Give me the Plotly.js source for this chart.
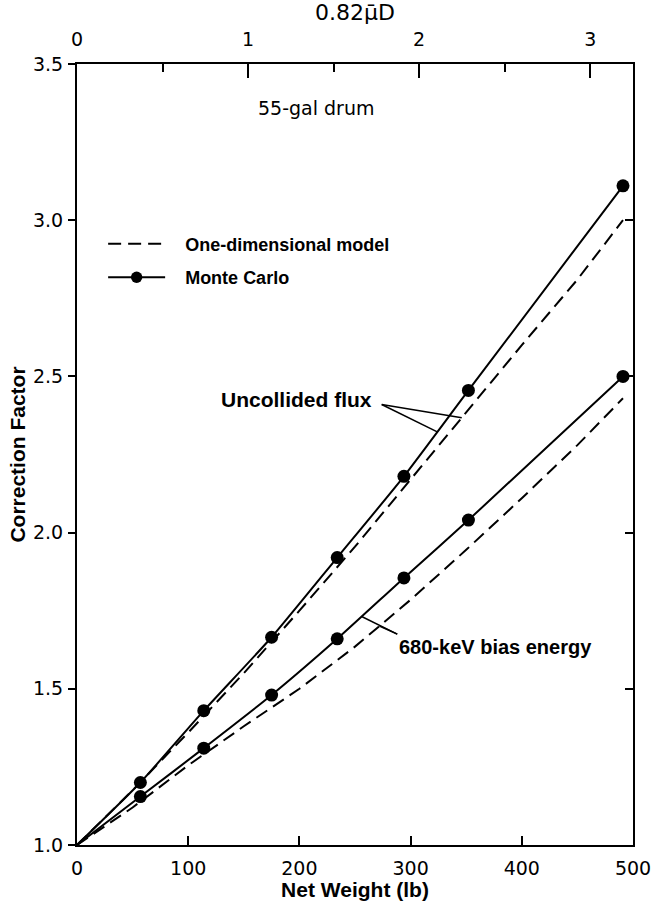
<!DOCTYPE html>
<html>
<head>
<meta charset="utf-8">
<script src="https://cdn.plot.ly/plotly-3.0.1.min.js"></script>
<style>
  html, body { margin: 0; padding: 0; background: #fff; }
  #chart { width: 652px; height: 901px; }
</style>
</head>
<body>
<div id="chart"></div>
<script>
// Net weight of the drum contents (lb) at which the Monte Carlo runs were made
const weightMC = [0, 57, 114, 175, 234, 294, 352, 491];
// Monte Carlo correction factors
const mcUncollided = [1.0, 1.20, 1.43, 1.665, 1.92, 2.18, 2.455, 3.11];
const mcBias680 = [1.0, 1.155, 1.31, 1.48, 1.66, 1.855, 2.04, 2.50];

// One-dimensional model, evaluated on a regular weight grid
const weightModel = [0, 50, 100, 150, 200, 250, 300, 350, 400, 450, 491];
const modelUncollided = [1.0, 1.175, 1.36, 1.55, 1.75, 1.955, 2.17, 2.385, 2.60, 2.81, 3.0];
const modelBias680 = [1.0, 1.12, 1.255, 1.38, 1.50, 1.635, 1.785, 1.945, 2.11, 2.28, 2.43];

// Axis ticks
const weightTicks = [0, 100, 200, 300, 400, 500];
const muDTicks = [0, 1, 2, 3];
const muDMinorTicks = [0.5, 1.5, 2.5];
const factorTicks = [1.0, 1.5, 2.0, 2.5, 3.0, 3.5];

const INK = '#000';
const TICK_FONT = { family: 'DejaVu Sans', size: 19, color: INK };
const BOLD_FONT = { family: 'Liberation Sans, Arial, sans-serif', size: 21, color: INK, weight: 'bold' };
const GAP = '\u00a0\u00a0\u00a0';

// linear lookup on a curve, used to anchor the label leader lines
function lookup(xs, ys, x) {
  for (let i = 1; i < xs.length; i++) {
    if (x <= xs[i]) {
      const t = (x - xs[i - 1]) / (xs[i] - xs[i - 1]);
      return ys[i - 1] + t * (ys[i] - ys[i - 1]);
    }
  }
  return ys[ys.length - 1];
}

// no dot at the common origin of the curves
const mcMarkerSizes = weightMC.map(w => (w === 0 ? 0 : 13));

const dashed = { color: INK, width: 2, dash: '13px,7px' };
const solid = { color: INK, width: 2, shape: 'spline', smoothing: 0.5 };
const dot = { color: INK, size: mcMarkerSizes, opacity: 1, line: { width: 0 } };

const traces = [
  {
    x: weightModel, y: modelUncollided, mode: 'lines', line: dashed,
    name: GAP + 'One-dimensional model', legendgroup: 'model', showlegend: true
  },
  {
    x: weightModel, y: modelBias680, mode: 'lines', line: dashed,
    name: 'One-dimensional model', legendgroup: 'model', showlegend: false
  },
  {
    x: weightMC, y: mcUncollided, mode: 'lines+markers', line: solid, marker: dot,
    name: GAP + 'Monte Carlo', legendgroup: 'mc', showlegend: true
  },
  {
    x: weightMC, y: mcBias680, mode: 'lines+markers', line: solid, marker: dot,
    name: 'Monte Carlo', legendgroup: 'mc', showlegend: false
  },
  // empty trace that binds the top (0.82 mu D) and right-hand axes
  {
    x: [], y: [], xaxis: 'x2', yaxis: 'y2', mode: 'lines',
    showlegend: false, hoverinfo: 'skip'
  }
];

// leader lines from the curve labels to the curves they name
const leader = (x0, y0, x1, y1) => ({
  type: 'line', xref: 'x', yref: 'y', x0: x0, y0: y0, x1: x1, y1: y1,
  line: { color: INK, width: 1.5 }
});
const uncollidedFrom = [274, 2.41];
const biasFrom = [288, 1.675];
const shapes = [
  leader(uncollidedFrom[0], uncollidedFrom[1], 324, lookup(weightMC, mcUncollided, 324)),
  leader(uncollidedFrom[0], uncollidedFrom[1], 346, lookup(weightModel, modelUncollided, 346)),
  leader(biasFrom[0], biasFrom[1], 256, lookup(weightMC, mcBias680, 256)),
  leader(biasFrom[0], biasFrom[1], 272, lookup(weightModel, modelBias680, 272))
];

const annotations = [
  {
    text: '55-gal drum', x: 215, y: 3.36, xref: 'x', yref: 'y',
    showarrow: false, font: { family: 'DejaVu Sans', size: 19, color: INK }
  },
  {
    text: 'Uncollided flux', x: 267, y: 2.425, xref: 'x', yref: 'y',
    xanchor: 'right', showarrow: false, font: BOLD_FONT
  },
  {
    text: '680-keV bias energy', x: 288, y: 1.635, xref: 'x', yref: 'y',
    xanchor: 'left', showarrow: false,
    font: { family: 'Liberation Sans, Arial, sans-serif', size: 20, color: INK, weight: 'bold' }
  }
];

const frame = { showline: true, linecolor: INK, linewidth: 2, showgrid: false, zeroline: false };

const layout = {
  width: 652, height: 901,
  margin: { l: 77, r: 19, t: 64, b: 56 },
  paper_bgcolor: '#fff', plot_bgcolor: '#fff',
  showlegend: true,
  legend: {
    x: 0.047, y: 0.793, xanchor: 'left', yanchor: 'top',
    bgcolor: 'rgba(0,0,0,0)', itemwidth: 57, tracegroupgap: 7,
    traceorder: 'grouped',
    font: { family: 'Liberation Sans, Arial, sans-serif', size: 18, color: INK, weight: 'bold' }
  },
  xaxis: Object.assign({}, frame, {
    range: [0, 500], tickvals: weightTicks, ticks: 'inside', ticklen: 9, tickwidth: 2,
    tickcolor: INK, tickfont: TICK_FONT, ticklabelstandoff: 5,
    title: { text: 'Net Weight (lb)', font: BOLD_FONT, standoff: 4 }
  }),
  xaxis2: Object.assign({}, frame, {
    overlaying: 'x', side: 'top', anchor: 'y2', range: [0, 3.25],
    tickvals: muDTicks, ticks: 'inside', ticklen: 14, tickwidth: 2, tickcolor: INK,
    minor: { tickvals: muDMinorTicks, ticks: 'inside', ticklen: 8, tickwidth: 2, tickcolor: INK },
    tickfont: TICK_FONT, ticklabelstandoff: 8,
    title: { text: '0.82\u03bc\u0304D', font: { family: 'DejaVu Sans', size: 22, color: INK }, standoff: 2 }
  }),
  yaxis: Object.assign({}, frame, {
    range: [1.0, 3.5], tickvals: factorTicks, tickformat: '.1f',
    ticks: 'outside', ticklen: 7, tickwidth: 2, tickcolor: INK, tickfont: TICK_FONT,
    ticklabelstandoff: 1,
    title: { text: 'Correction Factor', font: BOLD_FONT, standoff: 2 }
  }),
  yaxis2: Object.assign({}, frame, {
    overlaying: 'y', side: 'right', anchor: 'x2', range: [1.0, 3.5],
    tickvals: factorTicks, ticks: 'inside', ticklen: 8, tickwidth: 2, tickcolor: INK,
    showticklabels: false
  }),
  shapes: shapes,
  annotations: annotations
};

Plotly.newPlot('chart', traces, layout, { staticPlot: true, displayModeBar: false });
</script>
</body>
</html>
